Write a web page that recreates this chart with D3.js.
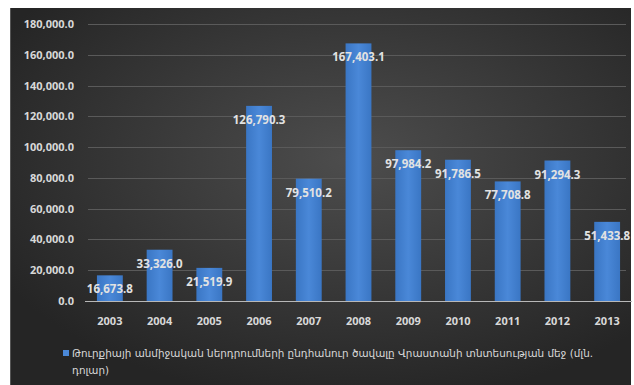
<!DOCTYPE html>
<html>
<head>
<meta charset="utf-8">
<script src="https://d3js.org/d3.v7.min.js"></script>
<style>
  body { margin: 0; background: #fff; }
  .axis text { font-family: 'Open Sans', sans-serif; font-weight: bold; font-size: 11px; fill: #d8d8d8; }
  .lbl { font-family: 'Open Sans', sans-serif; font-weight: bold; font-size: 11.5px; fill: #e2e2e2; }
  .legend { font-family: 'DejaVu Sans', sans-serif; font-size: 10.4px; fill: #d8d8d8; }
</style>
</head>
<body>
<script>
// data
var years = ["2003", "2004", "2005", "2006", "2007", "2008", "2009", "2010", "2011", "2012", "2013"];
var values = [16673.8, 33326.0, 21519.9, 126790.3, 79510.2, 167403.1, 97984.2, 91786.5, 77708.8, 91294.3, 51433.8];
var yTicks = [0, 20000, 40000, 60000, 80000, 100000, 120000, 140000, 160000, 180000];
var legendLines = ["Թուրքիայի անմիջական ներդրումների ընդհանուր ծավալը Վրաստանի տնտեսության մեջ (մլն.", "դոլար)"];

var W = 634, H = 385;
var svg = d3.select("body").append("svg")
    .attr("width", W).attr("height", H);

var defs = svg.append("defs");
var bg = defs.append("radialGradient").attr("id", "bg")
    .attr("cx", "55%").attr("cy", "40%").attr("r", "65%");
bg.append("stop").attr("offset", "0%").attr("stop-color", "#4d4d4d");
bg.append("stop").attr("offset", "100%").attr("stop-color", "#252525");

var barGrad = defs.append("linearGradient").attr("id", "barg")
    .attr("x1", "0").attr("x2", "1").attr("y1", "0").attr("y2", "0");
barGrad.append("stop").attr("offset", "0%").attr("stop-color", "#3a76c4");
barGrad.append("stop").attr("offset", "50%").attr("stop-color", "#4a88d8");
barGrad.append("stop").attr("offset", "100%").attr("stop-color", "#3a76c4");

// panel
svg.append("rect").attr("x", 10).attr("y", 8).attr("width", 621).attr("height", H - 8)
    .attr("fill", "url(#bg)");
svg.append("line").attr("x1", 10.5).attr("x2", 10.5).attr("y1", 8).attr("y2", H)
    .attr("stroke", "#555");

var x = d3.scaleBand().domain(years).range([85, 632]).paddingInner(0.48).paddingOuter(0.24);
var y = d3.scaleLinear().domain([0, 180000]).range([301, 24]);

var fmt = d3.format(",.1f");

// grid
svg.append("g").selectAll("line").data(yTicks.slice(1)).join("line")
    .attr("x1", 88).attr("x2", 626)
    .attr("y1", function(d) { return Math.round(y(d)) + 0.5; })
    .attr("y2", function(d) { return Math.round(y(d)) + 0.5; })
    .attr("stroke", "#5a5a5a").attr("stroke-width", 1);

// y axis
var yAxis = svg.append("g").attr("class", "axis")
    .attr("transform", "translate(80,0)")
    .call(d3.axisLeft(y).tickValues(yTicks).tickFormat(fmt).tickSize(0).tickPadding(6));
yAxis.select(".domain").remove();

// bars
svg.append("g").selectAll("rect").data(values).join("rect")
    .attr("x", function(d, i) { return x(years[i]); })
    .attr("width", x.bandwidth())
    .attr("y", function(d) { return y(d); })
    .attr("height", function(d) { return y(0) - y(d); })
    .attr("fill", "url(#barg)");

// baseline
svg.append("line").attr("x1", 85).attr("x2", 632).attr("y1", 301.5).attr("y2", 301.5)
    .attr("stroke", "#b8b8b8").attr("stroke-width", 1.2);

// x axis
var xAxis = svg.append("g").attr("class", "axis")
    .attr("transform", "translate(0,301)")
    .call(d3.axisBottom(x).tickSize(0).tickPadding(16));
xAxis.select(".domain").remove();

// value labels
svg.append("g").selectAll("text").data(values).join("text")
    .attr("class", "lbl")
    .attr("x", function(d, i) { return x(years[i]) + x.bandwidth() / 2; })
    .attr("y", function(d) { return y(d) + 14; })
    .attr("dy", "0.35em")
    .attr("text-anchor", "middle")
    .text(function(d) { return fmt(d); });

// legend
svg.append("rect").attr("x", 63).attr("y", 350).attr("width", 6).attr("height", 6)
    .attr("fill", "#4a88d8");
svg.append("g").selectAll("text").data(legendLines).join("text")
    .attr("class", "legend")
    .attr("x", 72)
    .attr("y", function(d, i) { return 357 + i * 17; })
    .text(function(d) { return d; });
</script>
</body>
</html>
